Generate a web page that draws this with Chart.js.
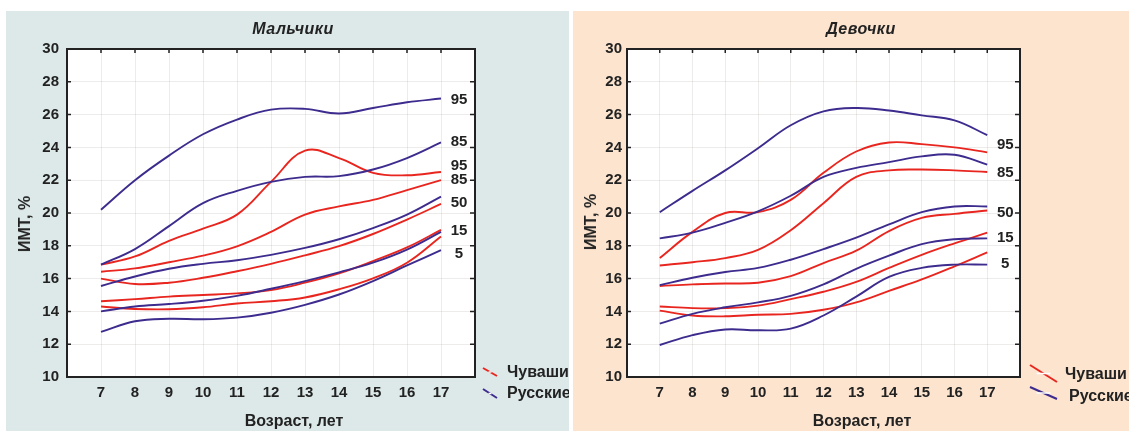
<!DOCTYPE html>
<html>
<head>
<meta charset="utf-8">
<script src="https://cdn.jsdelivr.net/npm/chart.js@4.4.0/dist/chart.umd.min.js"></script>
<style>
  html, body { margin: 0; padding: 0; width: 1129px; height: 431px; overflow: hidden; background: #fff; }
  body { font-family: "Liberation Sans", Arial, sans-serif; color: #222; }
  .panel { position: absolute; top: 11px; height: 420px; overflow: hidden; }
  #boysPanel { left: 6px; width: 563px; background: #dde9e9; }
  #girlsPanel { left: 573px; width: 556px; background: #fce4cf; }
  .panel canvas { position: absolute; left: 0; top: 0; }
  .txt { position: absolute; font-weight: bold; font-size: 16px; white-space: nowrap; transform: translate(-50%, -50%); color: #222; }
  .ttl { font-style: italic; letter-spacing: 0.5px; }
  .ytl { transform: translate(-50%, -50%) rotate(-90deg); }
</style>
</head>
<body>

<div class="panel" id="boysPanel">
  <canvas id="boysChart" width="563" height="420"></canvas>
  <div class="txt ttl" style="left:287px;top:18px">Мальчики</div>
  <div class="txt" style="left:288px;top:410px">Возраст, лет</div>
  <div class="txt ytl" style="left:19px;top:213px">ИМТ, %</div>
</div>

<div class="panel" id="girlsPanel">
  <canvas id="girlsChart" width="556" height="420"></canvas>
  <div class="txt ttl" style="left:288px;top:18px">Девочки</div>
  <div class="txt" style="left:289px;top:410px">Возраст, лет</div>
  <div class="txt ytl" style="left:18px;top:211px">ИМТ, %</div>
</div>

<script>
// возраст, лет
const ages = [7, 8, 9, 10, 11, 12, 13, 14, 15, 16, 17];

// мальчики, русские (перцентили)
const boysRus95 = [20.2, 22.0, 23.5, 24.8, 25.7, 26.3, 26.35, 26.07, 26.4, 26.75, 26.98];
const boysRus85 = [16.85, 17.8, 19.2, 20.6, 21.35, 21.9, 22.2, 22.25, 22.65, 23.35, 24.3];
const boysRus50 = [15.55, 16.13, 16.6, 16.9, 17.12, 17.45, 17.87, 18.4, 19.08, 19.9, 21.0];
const boysRus15 = [14.0, 14.3, 14.45, 14.65, 14.95, 15.38, 15.85, 16.38, 16.97, 17.77, 18.85];
const boysRus5 = [12.75, 13.4, 13.55, 13.52, 13.62, 13.92, 14.4, 15.03, 15.85, 16.8, 17.73];

// мальчики, чуваши
const boysChu95 = [16.85, 17.35, 18.3, 19.05, 19.9, 21.9, 23.8, 23.35, 22.45, 22.3, 22.5];
const boysChu85 = [16.42, 16.62, 17.0, 17.4, 17.97, 18.85, 19.9, 20.4, 20.8, 21.4, 22.0];
const boysChu50 = [16.0, 15.67, 15.75, 16.05, 16.45, 16.9, 17.42, 17.98, 18.72, 19.6, 20.55];
const boysChu15 = [14.62, 14.75, 14.9, 15.0, 15.1, 15.3, 15.75, 16.32, 17.07, 17.9, 18.97];
const boysChu5 = [14.3, 14.15, 14.13, 14.25, 14.48, 14.62, 14.85, 15.35, 16.02, 16.97, 18.57];

// девочки, русские
const girlsRus95 = [20.05, 21.35, 22.6, 23.95, 25.35, 26.2, 26.4, 26.25, 25.95, 25.65, 24.75];
const girlsRus85 = [18.45, 18.8, 19.4, 20.1, 21.05, 22.2, 22.75, 23.1, 23.45, 23.55, 22.95];
const girlsRus50 = [15.6, 16.05, 16.4, 16.65, 17.15, 17.8, 18.5, 19.3, 20.05, 20.4, 20.4];
const girlsRus15 = [13.25, 13.85, 14.25, 14.55, 14.95, 15.65, 16.6, 17.4, 18.1, 18.4, 18.45];
const girlsRus5 = [11.95, 12.55, 12.9, 12.85, 12.95, 13.75, 14.9, 16.1, 16.65, 16.85, 16.85];

// девочки, чуваши
const girlsChu95 = [17.25, 18.85, 20.0, 20.05, 20.8, 22.45, 23.75, 24.3, 24.2, 24.0, 23.7];
const girlsChu85 = [16.8, 17.0, 17.25, 17.75, 18.95, 20.6, 22.2, 22.6, 22.65, 22.6, 22.5];
const girlsChu50 = [15.55, 15.65, 15.7, 15.75, 16.15, 16.95, 17.7, 18.9, 19.7, 19.95, 20.15];
const girlsChu15 = [14.3, 14.2, 14.2, 14.35, 14.75, 15.2, 15.8, 16.65, 17.45, 18.15, 18.8];
const girlsChu5 = [14.05, 13.75, 13.7, 13.8, 13.85, 14.1, 14.55, 15.25, 15.95, 16.75, 17.6];

// подписи перцентилей справа
const boysTagText = ['95', '85', '95', '85', '50', '15', '5'];
const boysTagY = [26.9, 24.35, 22.9, 22.0, 20.6, 18.9, 17.5];
const girlsTagText = ['95', '85', '50', '15', '5'];
const girlsTagY = [24.13, 22.43, 20.0, 18.5, 16.9];

const legendNames = ['Чуваши', 'Русские'];

const RED = '#e8261f';
const BLUE = '#3d2b8e';
const INK = '#222';
const FONT = '"Liberation Sans", Arial, sans-serif';

function toPoints(values) {
  return values.map((v, i) => ({ x: ages[i], y: v }));
}

function lineSet(values, color) {
  return {
    data: toPoints(values),
    borderColor: color,
    borderWidth: 1.9,
    pointRadius: 0,
    tension: 0.4,
    fill: false
  };
}

// рамка, внутренние засечки, подписи перцентилей и легенда
const panelDecor = {
  id: 'panelDecor',
  beforeDraw(chart) {
    const a = chart.chartArea;
    const ctx = chart.ctx;
    ctx.save();
    ctx.fillStyle = '#fff';
    ctx.fillRect(a.left, a.top, a.right - a.left, a.bottom - a.top);
    ctx.restore();
  },
  afterDraw(chart, args, opts) {
    const a = chart.chartArea;
    const ctx = chart.ctx;
    const xs = chart.scales.x;
    const ys = chart.scales.y;
    ctx.save();
    // засечки внутри рамки
    ctx.strokeStyle = INK;
    ctx.lineWidth = 1.5;
    ctx.beginPath();
    ys.ticks.forEach(t => {
      const y = ys.getPixelForValue(t.value);
      ctx.moveTo(a.left, y); ctx.lineTo(a.left + 4, y);
      ctx.moveTo(a.right, y); ctx.lineTo(a.right - 5, y);
    });
    xs.ticks.forEach(t => {
      if (t.value < 7 || t.value > 17) return;
      const x = xs.getPixelForValue(t.value);
      ctx.moveTo(x, a.top); ctx.lineTo(x, a.top + 4);
    });
    ctx.stroke();
    // рамка
    ctx.lineWidth = 2;
    ctx.strokeRect(a.left, a.top, a.right - a.left, a.bottom - a.top);

    // подписи перцентилей
    ctx.fillStyle = INK;
    ctx.font = 'bold 15px ' + FONT;
    ctx.textAlign = 'center';
    ctx.textBaseline = 'middle';
    const xTag = xs.getPixelForValue(17) + 18;
    opts.tagText.forEach((t, i) => {
      ctx.fillText(t, xTag, ys.getPixelForValue(opts.tagY[i]));
    });

    // легенда
    const lg = opts.legend;
    ctx.textAlign = 'left';
    ctx.font = 'bold 16px ' + FONT;
    [RED, BLUE].forEach((c, i) => {
      const m = lg.marks[i];
      ctx.strokeStyle = c;
      ctx.lineWidth = 2;
      ctx.beginPath();
      ctx.moveTo(m[0], m[1]); ctx.lineTo(m[2], m[3]);
      ctx.stroke();
      // белый разрыв
      const mx = (m[0] + m[2]) / 2, my = (m[1] + m[3]) / 2;
      ctx.strokeStyle = '#fff';
      ctx.lineWidth = 1.5;
      ctx.beginPath();
      ctx.moveTo(mx - lg.gap, my); ctx.lineTo(mx + lg.gap, my);
      ctx.stroke();
      ctx.fillStyle = INK;
      ctx.fillText(legendNames[i], lg.text[i][0], lg.text[i][1]);
    });
    ctx.restore();
  }
};

function makeChart(id, rus, chu, layout, decor) {
  const datasets = [];
  rus.forEach(v => datasets.push(lineSet(v, BLUE)));
  chu.forEach(v => datasets.push(lineSet(v, RED)));
  return new Chart(document.getElementById(id), {
    type: 'line',
    data: { datasets: datasets },
    plugins: [panelDecor],
    options: {
      responsive: false,
      animation: false,
      devicePixelRatio: 1,
      layout: { padding: { left: 0, right: layout.right, top: layout.top, bottom: 0 } },
      plugins: {
        legend: { display: false },
        tooltip: { enabled: false },
        panelDecor: decor
      },
      scales: {
        x: {
          type: 'linear',
          min: 6,
          max: 18,
          afterFit: s => { s.height = layout.xHeight; },
          grid: { color: 'rgba(120,110,100,0.13)', lineWidth: 1, drawTicks: false },
          border: { display: false },
          ticks: {
            stepSize: 1,
            padding: 7,
            color: INK,
            font: { family: FONT, size: 15, weight: 'bold' },
            callback: v => (v >= 7 && v <= 17) ? String(v) : ''
          }
        },
        y: {
          min: 10,
          max: 30,
          afterFit: s => { s.width = layout.yWidth; },
          grid: { color: 'rgba(120,110,100,0.13)', lineWidth: 1, drawTicks: false },
          border: { display: false },
          ticks: {
            stepSize: 2,
            padding: layout.yPad,
            color: INK,
            font: { family: FONT, size: 15, weight: 'bold' }
          }
        }
      }
    }
  });
}

makeChart('boysChart',
  [boysRus95, boysRus85, boysRus50, boysRus15, boysRus5],
  [boysChu95, boysChu85, boysChu50, boysChu15, boysChu5],
  { right: 563 - 469, top: 38, xHeight: 420 - 366, yWidth: 61, yPad: 8 },
  {
    tagText: boysTagText, tagY: boysTagY,
    legend: { marks: [[477, 357, 491, 365], [477, 378, 491, 387]], gap: 1.5, text: [[501, 362], [501, 383]] }
  });

makeChart('girlsChart',
  [girlsRus95, girlsRus85, girlsRus50, girlsRus15, girlsRus5],
  [girlsChu95, girlsChu85, girlsChu50, girlsChu15, girlsChu5],
  { right: 556 - 447, top: 38, xHeight: 420 - 366, yWidth: 54, yPad: 5 },
  {
    tagText: girlsTagText, tagY: girlsTagY,
    legend: { marks: [[457, 354, 484, 371], [457, 376, 484, 388]], gap: 7, text: [[492, 364], [496, 386]] }
  });
</script>
</body>
</html>
